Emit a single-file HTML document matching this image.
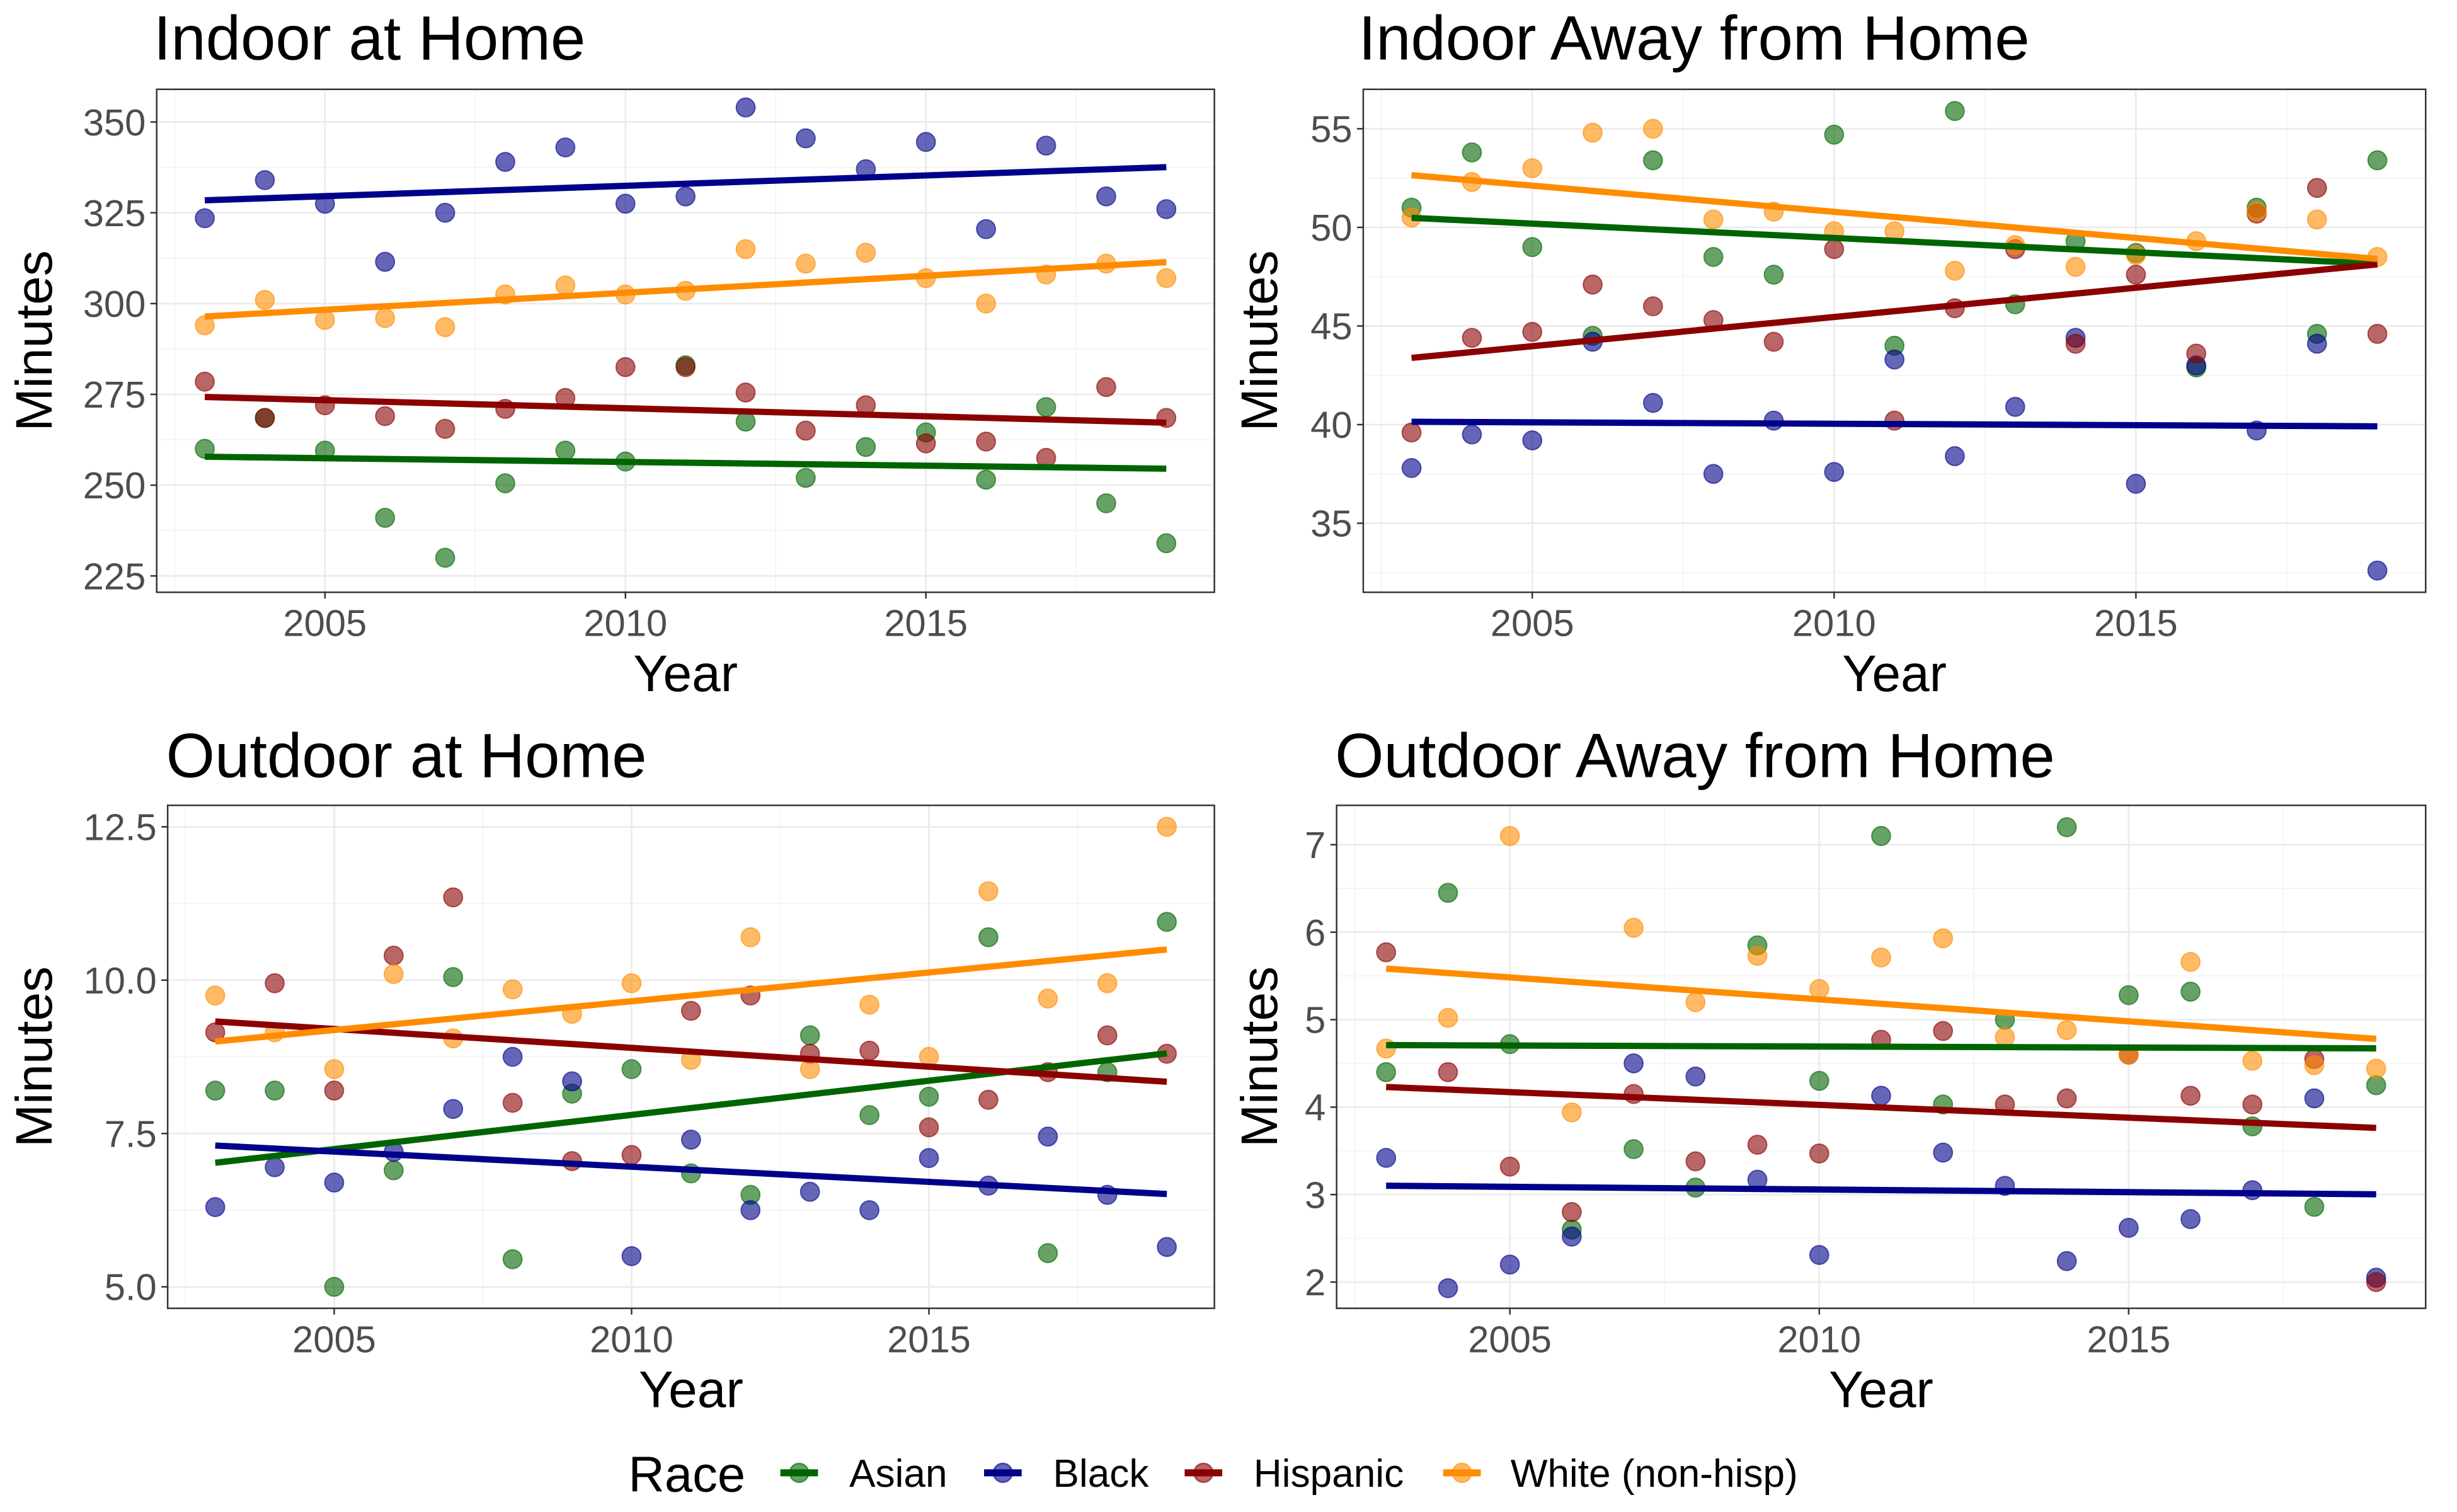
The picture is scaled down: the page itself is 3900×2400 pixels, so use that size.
<!DOCTYPE html>
<html><head><meta charset="utf-8"><style>
html,body{margin:0;padding:0;background:#fff;}
svg{display:block;font-family:"Liberation Sans",sans-serif;}
</style></head><body>
<svg id="chart" width="3900" height="2400" viewBox="0 0 1568 965" preserveAspectRatio="none" xmlns="http://www.w3.org/2000/svg"></svg>
<script>
const years = [2003,2004,2005,2006,2007,2008,2009,2010,2011,2012,2013,2014,2015,2016,2017,2018,2019];
const raceNames = ["Asian","Black","Hispanic","White (non-hisp)"];
const raceColors = ["#006400","#00008B","#8B0000","#FF8C00"];
// Indoor at Home
const inHomeAsian = [260,268.5,259.5,241,230,250.5,259.5,256.5,283,267.5,252,260.5,264.5,251.5,271.5,245,234];
const inHomeBlack = [323.5,334,327.5,311.5,325,339,343,327.5,329.5,354,345.5,337,344.5,320.5,343.5,329.5,326];
const inHomeHisp = [278.5,268.5,272,269,265.5,271,274,282.5,282.5,275.5,265,272,261.5,262,257.5,277,268.5];
const inHomeWhite = [294,301,295.5,296,293.5,302.5,305,302.5,303.5,315,311,314,307,300,308,311,307];
// Indoor Away from Home
const inAwayAsian = [51,53.8,49,44.5,53.4,48.5,47.6,54.7,44,55.9,46.1,49.3,48.7,42.9,51,44.6,53.4];
const inAwayBlack = [37.8,39.5,39.2,44.2,41.1,37.5,40.2,37.6,43.3,38.4,40.9,44.4,37,43,39.7,44.1,32.6];
const inAwayHisp = [39.6,44.4,44.7,47.1,46,45.3,44.2,48.9,40.2,45.9,48.9,44.1,47.6,43.6,50.7,52,44.6];
const inAwayWhite = [50.5,52.3,53,54.8,55,50.4,50.8,49.8,49.8,47.8,49.1,48,48.6,49.3,50.8,50.4,48.5];
// Outdoor at Home
const outHomeAsian = [8.2,8.2,5.0,6.9,10.05,5.45,8.15,8.55,6.85,6.5,9.1,7.8,8.1,10.7,5.55,8.5,10.95];
const outHomeBlack = [6.3,6.95,6.7,7.2,7.9,8.75,8.35,5.5,7.4,6.25,6.55,6.25,7.1,6.65,7.45,6.5,5.65];
const outHomeHisp = [9.15,9.95,8.2,10.4,11.35,8.0,7.05,7.15,9.5,9.75,8.8,8.85,7.6,8.05,8.5,9.1,8.8];
const outHomeWhite = [9.75,9.15,8.55,10.1,9.05,9.85,9.45,9.95,8.7,10.7,8.55,9.6,8.75,11.45,9.7,9.95,12.5];
// Outdoor Away from Home
const outAwayAsian = [4.4,6.45,4.72,2.6,3.52,3.08,5.85,4.3,7.1,4.03,5.0,7.2,5.28,5.32,3.78,2.86,4.25];
const outAwayBlack = [3.42,1.93,2.2,2.52,4.5,4.35,3.17,2.31,4.13,3.48,3.1,2.24,2.62,2.72,3.05,4.1,2.05];
const outAwayHisp = [5.77,4.4,3.32,2.8,4.15,3.38,3.57,3.47,4.77,4.87,4.03,4.1,4.6,4.13,4.03,4.55,2.0];
const outAwayWhite = [4.67,5.02,7.1,3.94,6.05,5.2,5.73,5.35,5.71,5.93,4.8,4.88,4.6,5.66,4.53,4.48,4.44];
const xTicks = [2005,2010,2015];
const yTicks1 = [225,250,275,300,325,350];
const yTicks2 = [35,40,45,50,55];
const yTicks3 = [5.0,7.5,10.0,12.5];
const yTicks4 = [2,3,4,5,6,7];
const yLabels3 = ["5.0","7.5","10.0","12.5"];

const NS="http://www.w3.org/2000/svg";
const svg=document.getElementById('chart');
function mk(tag,attrs,parent){const e=document.createElementNS(NS,tag);for(const k in attrs)e.setAttribute(k,attrs[k]);(parent||svg).appendChild(e);return e;}

const panels=[
 {title:"Indoor at Home",name:"indoor-at-home",x0:100,x1:775,y0:57,y1:378,ymin:220.5,ymax:359,ticks:yTicks1,labels:null,series:[inHomeAsian,inHomeBlack,inHomeHisp,inHomeWhite],tx:98,ty:38,ylx:33},
 {title:"Indoor Away from Home",name:"indoor-away-from-home",x0:870,x1:1548,y0:57,y1:378,ymin:31.5,ymax:57,ticks:yTicks2,labels:null,series:[inAwayAsian,inAwayBlack,inAwayHisp,inAwayWhite],tx:867,ty:38,ylx:815},
 {title:"Outdoor at Home",name:"outdoor-at-home",x0:107,x1:775,y0:514,y1:835,ymin:4.65,ymax:12.85,ticks:yTicks3,labels:yLabels3,series:[outHomeAsian,outHomeBlack,outHomeHisp,outHomeWhite],tx:106,ty:496,ylx:33},
 {title:"Outdoor Away from Home",name:"outdoor-away-from-home",x0:853,x1:1548,y0:514,y1:835,ymin:1.7,ymax:7.45,ticks:yTicks4,labels:null,series:[outAwayAsian,outAwayBlack,outAwayHisp,outAwayWhite],tx:852,ty:496,ylx:815}
];
const xmin=2002.2,xmax=2019.8;

panels.forEach(p=>{
  const g=mk('g',{});
  
  
  const X=v=>p.x0+(v-xmin)/(xmax-xmin)*(p.x1-p.x0);
  const Y=v=>p.y1-(v-p.ymin)/(p.ymax-p.ymin)*(p.y1-p.y0);
  mk('rect',{x:p.x0,y:p.y0,width:p.x1-p.x0,height:p.y1-p.y0,fill:'#fff'},g);
  const step=p.ticks[1]-p.ticks[0];
  for(let i=-1;i<p.ticks.length;i++){const v=p.ticks[0]+step*(i+0.5);if(v>p.ymin&&v<p.ymax)mk('line',{x1:p.x0,x2:p.x1,y1:Y(v),y2:Y(v),stroke:'#f2f2f2','stroke-width':0.6},g);}
  [2002.5,2007.5,2012.5,2017.5].forEach(v=>{if(v>xmin&&v<xmax)mk('line',{x1:X(v),x2:X(v),y1:p.y0,y2:p.y1,stroke:'#f2f2f2','stroke-width':0.6},g);});
  p.ticks.forEach((v,i)=>{
    mk('line',{x1:p.x0,x2:p.x1,y1:Y(v),y2:Y(v),stroke:'#ebebeb','stroke-width':1.1},g);
    mk('line',{x1:p.x0-4,x2:p.x0,y1:Y(v),y2:Y(v),stroke:'#333','stroke-width':1},g);
    const t=mk('text',{x:p.x0-7,y:Y(v)+8.5,'text-anchor':'end','font-size':24,fill:'#4d4d4d'},g);
    t.textContent=p.labels?p.labels[i]:String(v);
    
    
  });
  xTicks.forEach(v=>{
    mk('line',{x1:X(v),x2:X(v),y1:p.y0,y2:p.y1,stroke:'#ebebeb','stroke-width':1.1},g);
    mk('line',{x1:X(v),x2:X(v),y1:p.y1,y2:p.y1+4,stroke:'#333','stroke-width':1},g);
    const t=mk('text',{x:X(v),y:p.y1+28,'text-anchor':'middle','font-size':24,fill:'#4d4d4d'},g);
    t.textContent=String(v);
    
    
  });
  p.series.forEach((s,si)=>{
    s.forEach((v,i)=>{
      const c=mk('circle',{cx:X(years[i]),cy:Y(v),r:6,fill:raceColors[si],'fill-opacity':0.6,stroke:raceColors[si],'stroke-opacity':0.6,'stroke-width':0.8},g);
      
      
    });
  });
  p.series.forEach((s,si)=>{
    const n=s.length;let mx=0,my=0;for(let i=0;i<n;i++){mx+=years[i];my+=s[i];}mx/=n;my/=n;
    let sxy=0,sxx=0;for(let i=0;i<n;i++){sxy+=(years[i]-mx)*(s[i]-my);sxx+=(years[i]-mx)**2;}
    const b=sxy/sxx,a=my-b*mx;
    const l=mk('line',{x1:X(years[0]),y1:Y(a+b*years[0]),x2:X(years[n-1]),y2:Y(a+b*years[n-1]),stroke:raceColors[si],'stroke-width':4},g);
    
    
  });
  mk('rect',{x:p.x0,y:p.y0,width:p.x1-p.x0,height:p.y1-p.y0,fill:'none',stroke:'#333','stroke-width':1},g);
  const tt=mk('text',{x:p.tx,y:p.ty,'font-size':40,fill:'#000'},g);tt.textContent=p.title;
  
  
  const xl=mk('text',{x:(p.x0+p.x1)/2,y:p.y1+63,'text-anchor':'middle','font-size':33,fill:'#000'},g);xl.textContent="Year";
  
  
  const cy=(p.y0+p.y1)/2;
  const yl=mk('text',{x:p.ylx,y:cy,'text-anchor':'middle','font-size':33,fill:'#000',transform:`rotate(-90 ${p.ylx} ${cy})`},g);yl.textContent="Minutes";
  
  
});

const lg=mk('g',{});


const lt=mk('text',{x:401,y:952,'font-size':32,fill:'#000'},lg);lt.textContent="Race";
const legC=[510,640,768,933];
const legT=[542,672,800,964];
raceNames.forEach((r,i)=>{
  const e=mk('g',{},lg);
  
  
  mk('line',{x1:legC[i]-12,x2:legC[i]+12,y1:940,y2:940,stroke:raceColors[i],'stroke-width':4.5},e);
  mk('circle',{cx:legC[i],cy:940,r:6,fill:raceColors[i],'fill-opacity':0.6,stroke:raceColors[i],'stroke-opacity':0.6},e);
  const t=mk('text',{x:legT[i],y:949,'font-size':25,fill:'#000'},e);t.textContent=r;
});
</script>
</body></html>
